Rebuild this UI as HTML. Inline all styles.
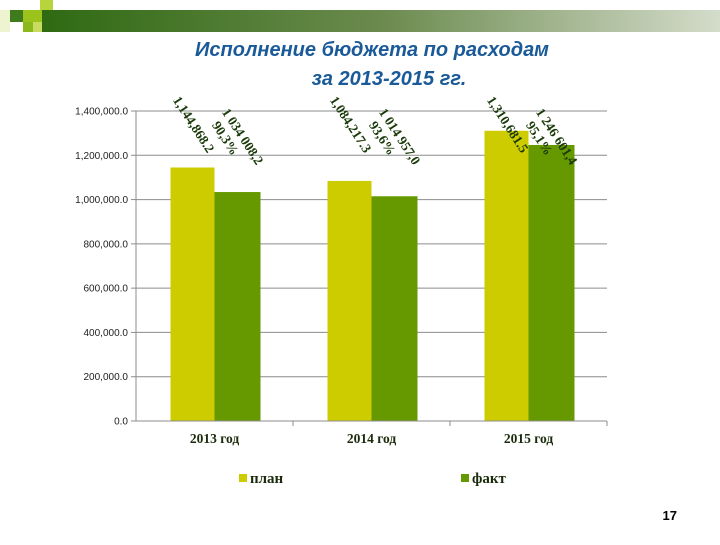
<!DOCTYPE html>
<html><head><meta charset="utf-8"><style>
body{margin:0;width:720px;height:540px;background:#fff;overflow:hidden;position:relative;font-family:"Liberation Sans",sans-serif}
</style></head><body>
<svg width="720" height="540" viewBox="0 0 720 540" xmlns="http://www.w3.org/2000/svg">
<defs><linearGradient id="hg" x1="0" x2="1"><stop offset="0" stop-color="#2f6a12"/><stop offset="0.5" stop-color="#6b8a4e"/><stop offset="1" stop-color="#d4dccb"/></linearGradient></defs>
<g>
<rect x="42" y="10" width="678" height="22" fill="url(#hg)"/>
<rect x="40" y="0" width="13" height="10" fill="#b8d43c"/>
<rect x="10" y="10" width="13" height="12" fill="#3f7a1c"/>
<rect x="23" y="10" width="19" height="12" fill="#9cc31c"/>
<rect x="23" y="22" width="10" height="10" fill="#8bb81a"/>
<rect x="33" y="22" width="9" height="10" fill="#c8dc60"/>
<rect x="0" y="10" width="10" height="22" fill="#eef3d0"/>
</g>
<g fill="#1a5a98" font-weight="bold" font-style="italic" font-size="20" text-anchor="middle">
<text x="372" y="56">Исполнение бюджета по расходам</text>
<text x="389" y="85">за 2013-2015 гг.</text>
</g>
<g id="chart"></g>
<text x="677" y="520" font-size="13" font-weight="bold" text-anchor="end">17</text>
</svg>
<script>
const categories=["2013 год","2014 год","2015 год"];
const plan=[1144868.2,1084217.3,1310681.5];
const fact=[1034008.2,1014957.0,1246601.4];
const planLabels=["1,144,868.2","1,084,217.3","1,310,681.5"];
const factLabels=["1 034 008,2","1 014 957,0","1 246 601,4"];
const factPct=["90,3%","93,6%","95,1%"];
const yTicks=[0,200000,400000,600000,800000,1000000,1200000,1400000];
const yTickLabels=["0.0","200,000.0","400,000.0","600,000.0","800,000.0","1,000,000.0","1,200,000.0","1,400,000.0"];
const NS="http://www.w3.org/2000/svg";
const g=document.getElementById('chart');
const L=136,R=607,B=421,T=111,ymax=1400000;
const y=v=>B-(v/ymax)*(B-T);
const cw=(R-L)/categories.length;
const x=i=>L+cw*i;
function mk(t,a,txt){const e=document.createElementNS(NS,t);for(const k in a)e.setAttribute(k,a[k]);if(txt!==undefined)e.textContent=txt;g.appendChild(e);return e;}
yTicks.forEach((v,i)=>{
 if(v>0){const l=mk('line',{x1:L,x2:R,y1:y(v),y2:y(v),stroke:'#8c8c8c','stroke-width':1});
 
 }
 const tk=mk('line',{x1:L-5,x2:L,y1:y(v),y2:y(v),stroke:'#8c8c8c'});
 
 
 const t=mk('text',{x:L-8,y:y(v)+3.5,'font-size':10,'text-anchor':'end',fill:'#222'},yTickLabels[i]);
 
 
});
const ax=mk('line',{x1:L,x2:L,y1:T,y2:B,stroke:'#8c8c8c'});


const bw=44;
categories.forEach((c,i)=>{
 const cx=x(i)+cw/2;
 const p=mk('rect',{x:cx-bw,y:y(plan[i]),width:bw,height:B-y(plan[i]),fill:'#cccc00'});
 
 
 const f=mk('rect',{x:cx,y:y(fact[i]),width:bw+2,height:B-y(fact[i]),fill:'#669900'});
 
 
 const t=mk('text',{x:cx,y:443,'font-size':13.5,'font-weight':'bold','font-family':'Liberation Serif,serif','text-anchor':'middle',fill:'#1a2a0a'},c);
 
 
 const tk=mk('line',{x1:x(i+1),x2:x(i+1),y1:B,y2:B+5,stroke:'#8c8c8c'});
 
 
 const lp=mk('text',{x:0,y:0,'font-size':13.5,'font-weight':'bold','font-family':'Liberation Serif,serif',fill:'#1a3a0a',transform:`translate(${cx-bw+2},${100}) rotate(57)`},planLabels[i]);
 
 
 const lf=mk('text',{x:0,y:0,'font-size':13.5,'font-weight':'bold','font-family':'Liberation Serif,serif',fill:'#1a3a0a',transform:`translate(${cx+7},${112}) rotate(57)`},factLabels[i]);
 
 
 const lq=mk('text',{x:0,y:0,'font-size':13.5,'font-weight':'bold','font-family':'Liberation Serif,serif',fill:'#1a3a0a',transform:`translate(${cx-3},${125}) rotate(57)`},factPct[i]);
 
 
});
const xa=mk('line',{x1:L,x2:R,y1:B,y2:B,stroke:'#8c8c8c'});


[["план","#cccc00",239],["факт","#669900",461]].forEach(([n,col,lx])=>{
 const s=mk('rect',{x:lx,y:474,width:8,height:8,fill:col});
 
 
 const t=mk('text',{x:lx+11,y:483,'font-size':15,'font-weight':'bold','font-family':'Liberation Serif,serif',fill:'#1a2a0a'},n);
 
 
});
</script>
</body></html>
